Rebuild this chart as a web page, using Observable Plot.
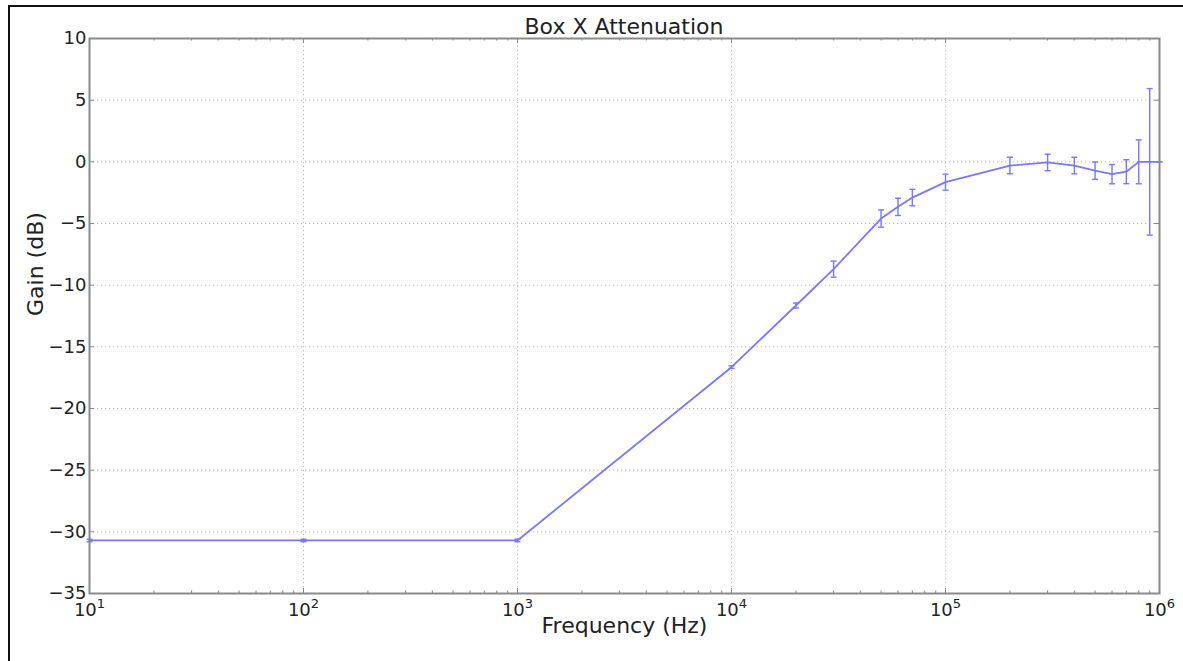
<!DOCTYPE html>
<html>
<head>
<meta charset="utf-8">
<script src="https://cdn.jsdelivr.net/npm/d3@7"></script>
<script src="https://cdn.jsdelivr.net/npm/@observablehq/plot@0.6"></script>
<style>
  html, body { margin: 0; padding: 0; background: #fff; width: 1183px; height: 661px; overflow: hidden; }
  #frameLines { position: absolute; left: 8px; top: 5px; right: -10px; bottom: -10px;
    border-left: 2.5px solid #111; border-top: 2.5px solid #111; pointer-events: none; z-index: 5; }
  #title { box-sizing: border-box; height: 37px; padding: 16px 24px 0 89px; text-align: center;
    font-family: "DejaVu Sans", sans-serif; font-size: 22px; line-height: 22px; color: #222; }
</style>
</head>
<body>
<div id="frameLines"></div>
<div id="title">Box X Attenuation</div>
<div id="chart"></div>
<script>
// Data
const frequency = [10, 100, 1000, 10000, 20000, 30000, 50000, 60000, 70000, 100000,
  200000, 300000, 400000, 500000, 600000, 700000, 800000, 900000, 1000000];
const gain = [-30.7, -30.7, -30.7, -16.65, -11.65, -8.7, -4.6, -3.65, -2.9, -1.65,
  -0.3, -0.05, -0.3, -0.72, -1.0, -0.8, 0, 0, 0];
const gainError = [0.1, 0.1, 0.1, 0.1, 0.2, 0.65, 0.7, 0.7, 0.67, 0.65,
  0.67, 0.67, 0.67, 0.7, 0.78, 0.97, 1.78, 5.94, 0];

const xTicks = [10, 100, 1000, 10000, 100000, 1000000];
const xTickBase = "10";
const xTickExponents = ["1", "2", "3", "4", "5", "6"];
const yTicks = [-35, -30, -25, -20, -15, -10, -5, 0, 5, 10];
const xMinorTicks = [];
for (const dec of [10, 100, 1000, 10000, 100000]) for (let m = 2; m <= 9; m++) xMinorTicks.push(dec * m);

const data = frequency.map((f, i) => ({f, g: gain[i], lo: gain[i] - gainError[i], hi: gain[i] + gainError[i]}));

const W = 1183, H = 624, mL = 89, mR = 24, mT = 1, mB = 68;
const innerW = W - mL - mR, innerH = H - mT - mB;
const lineColor = "#7777ff";
const capSymbol = {draw(ctx) { ctx.moveTo(-3, 0); ctx.lineTo(3, 0); }};

const chart = Plot.plot({
  width: W, height: H,
  marginLeft: mL, marginRight: mR, marginTop: mT, marginBottom: mB,
  style: {fontFamily: "DejaVu Sans, sans-serif", fontSize: "18px", color: "#222", background: "transparent", overflow: "visible"},
  x: {type: "log", domain: [10, 1000000]},
  y: {domain: [-35, 10]},
  marks: [
    Plot.ruleX(xTicks, {x: d => d, stroke: "#bdbdbd", strokeDasharray: "1.2,2.8", strokeWidth: 1}),
    Plot.ruleY(yTicks, {y: d => d, stroke: "#bdbdbd", strokeDasharray: "1.2,2.8", strokeWidth: 1}),
    // inward ticks
    Plot.tickX(xTicks, {x: d => d, insetTop: innerH - 5, stroke: "#888", strokeWidth: 1}),
    Plot.tickX(xTicks, {x: d => d, insetBottom: innerH - 5, stroke: "#888", strokeWidth: 1}),
    Plot.tickX(xMinorTicks, {x: d => d, insetTop: innerH - 2.5, stroke: "#888", strokeWidth: 1}),
    Plot.tickX(xMinorTicks, {x: d => d, insetBottom: innerH - 2.5, stroke: "#888", strokeWidth: 1}),
    Plot.tickY(yTicks, {y: d => d, insetRight: innerW - 5, stroke: "#888", strokeWidth: 1}),
    Plot.tickY(yTicks, {y: d => d, insetLeft: innerW - 5, stroke: "#888", strokeWidth: 1}),
    // data
    Plot.ruleX(data, {x: "f", y1: "lo", y2: "hi", stroke: lineColor, strokeWidth: 1.4}),
    Plot.dot(data, {x: "f", y: "lo", symbol: capSymbol, r: 3, stroke: lineColor, strokeWidth: 1.4, fill: "none"}),
    Plot.dot(data, {x: "f", y: "hi", symbol: capSymbol, r: 3, stroke: lineColor, strokeWidth: 1.4, fill: "none"}),
    Plot.line(data, {x: "f", y: "g", stroke: lineColor, strokeWidth: 1.8}),
    Plot.frame({stroke: "#8a8a8a", strokeWidth: 2}),
    // axes
    Plot.axisX(xTicks, {tickSize: 0, tickPadding: 10, tickFormat: d => xTickBase + "^" + xTickExponents[xTicks.indexOf(d)], label: null}),
    Plot.axisY(yTicks, {tickSize: 0, tickPadding: 3, tickFormat: d => d < 0 ? "\u2212" + Math.abs(d) : String(d), label: null}),
    Plot.text(["Frequency (Hz)"], {frameAnchor: "bottom", dy: 39, fontSize: 22, fill: "#222"}),
    Plot.text(["Gain (dB)"], {frameAnchor: "left", dx: -53.5, rotate: -90, fontSize: 22, fill: "#222"})
  ]
});
document.getElementById("chart").appendChild(chart);

// Render x tick labels as 10 with a raised exponent
const svgNS = "http://www.w3.org/2000/svg";
chart.querySelectorAll('g[aria-label="x-axis tick label"] text').forEach(t => {
  const [base, exp] = t.textContent.split("^");
  t.textContent = "";
  const b = document.createElementNS(svgNS, "tspan");
  b.textContent = base;
  const e = document.createElementNS(svgNS, "tspan");
  e.textContent = exp;
  e.setAttribute("dy", "-8");
  e.setAttribute("font-size", "13");
  t.appendChild(b);
  t.appendChild(e);
});
</script>
</body>
</html>
